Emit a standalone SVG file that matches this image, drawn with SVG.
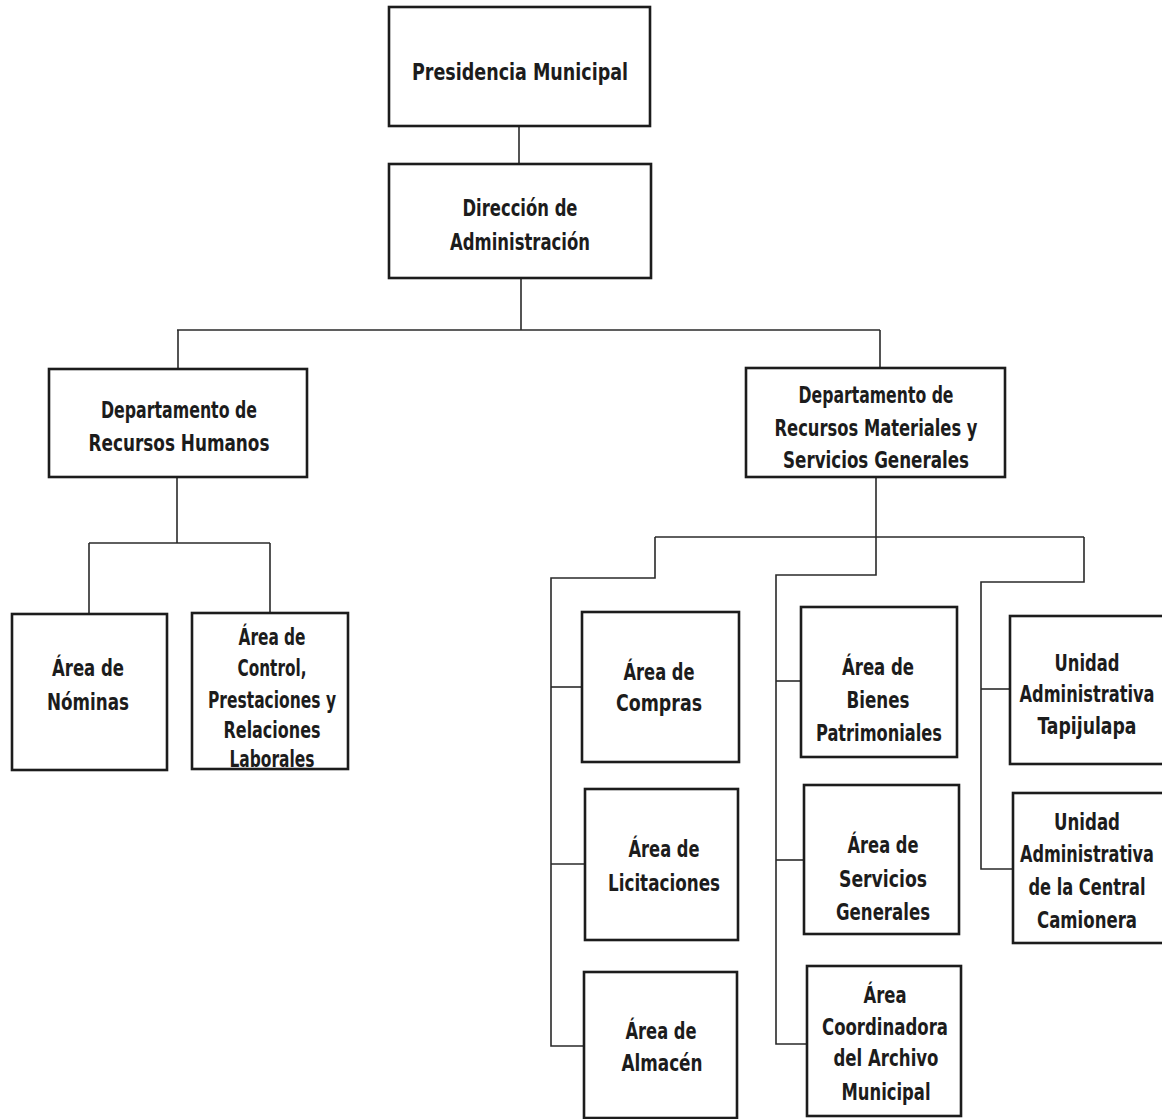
<svg xmlns="http://www.w3.org/2000/svg" width="1162" height="1119" viewBox="0 0 1162 1119">
<style>
.box{fill:#ffffff;stroke:#1c1c1c;stroke-width:2.6}
.t{font-family:"Liberation Sans Narrow","DejaVu Sans Condensed","Liberation Sans",sans-serif;font-stretch:condensed;font-weight:bold;font-size:23.5px;fill:#1c1c1c;text-anchor:middle}
#connectors path{fill:none;stroke:#2a2a2a;stroke-width:1.6}
</style>
<rect width="1162" height="1119" fill="#ffffff"/>
<g id="connectors">
<path d="M519 126V164"/>
<path d="M521 278V330"/>
<path d="M177 330H880"/>
<path d="M178 330V369"/>
<path d="M880 330V368"/>
<path d="M177 477V543"/>
<path d="M89 543H270"/>
<path d="M89 543V614"/>
<path d="M270 543V613"/>
<path d="M876 477V575H776V1044H807"/>
<path d="M655 537H1084"/>
<path d="M655 537V578H551V1046H584"/>
<path d="M1084 537V582H981V869H1013"/>
<path d="M551 687H582"/>
<path d="M551 864H585"/>
<path d="M776 681H801"/>
<path d="M776 860H804"/>
<path d="M981 689H1010"/>
</g>
<g id="presidencia">
<rect class="box" x="389" y="7" width="261" height="119"/>
<text class="t" x="520" y="80" textLength="216" lengthAdjust="spacingAndGlyphs">Presidencia Municipal</text>
</g>
<g id="direccion">
<rect class="box" x="389" y="164" width="262" height="114"/>
<text class="t" x="520" y="216" textLength="115" lengthAdjust="spacingAndGlyphs">Dirección de</text>
<text class="t" x="520" y="250" textLength="140" lengthAdjust="spacingAndGlyphs">Administración</text>
</g>
<g id="recursos-humanos">
<rect class="box" x="49" y="369" width="258" height="108"/>
<text class="t" x="179" y="418" textLength="156" lengthAdjust="spacingAndGlyphs">Departamento de</text>
<text class="t" x="179" y="451" textLength="181" lengthAdjust="spacingAndGlyphs">Recursos Humanos</text>
</g>
<g id="recursos-materiales">
<rect class="box" x="746" y="368" width="259" height="109"/>
<text class="t" x="876" y="403" textLength="155" lengthAdjust="spacingAndGlyphs">Departamento de</text>
<text class="t" x="876" y="436" textLength="203" lengthAdjust="spacingAndGlyphs">Recursos Materiales y</text>
<text class="t" x="876" y="468" textLength="186" lengthAdjust="spacingAndGlyphs">Servicios Generales</text>
</g>
<g id="nominas">
<rect class="box" x="12" y="614" width="155" height="156"/>
<text class="t" x="88" y="676" textLength="72" lengthAdjust="spacingAndGlyphs">Área de</text>
<text class="t" x="88" y="710" textLength="82" lengthAdjust="spacingAndGlyphs">Nóminas</text>
</g>
<g id="control">
<rect class="box" x="192" y="613" width="156" height="156"/>
<text class="t" x="272" y="645" textLength="67" lengthAdjust="spacingAndGlyphs">Área de</text>
<text class="t" x="272" y="676" textLength="69" lengthAdjust="spacingAndGlyphs">Control,</text>
<text class="t" x="272" y="708" textLength="128" lengthAdjust="spacingAndGlyphs">Prestaciones y</text>
<text class="t" x="272" y="738" textLength="97" lengthAdjust="spacingAndGlyphs">Relaciones</text>
<text class="t" x="272" y="767" textLength="85" lengthAdjust="spacingAndGlyphs">Laborales</text>
</g>
<g id="compras">
<rect class="box" x="582" y="612" width="157" height="150"/>
<text class="t" x="659" y="680" textLength="71" lengthAdjust="spacingAndGlyphs">Área de</text>
<text class="t" x="659" y="711" textLength="86" lengthAdjust="spacingAndGlyphs">Compras</text>
</g>
<g id="licitaciones">
<rect class="box" x="585" y="789" width="153" height="151"/>
<text class="t" x="664" y="857" textLength="71" lengthAdjust="spacingAndGlyphs">Área de</text>
<text class="t" x="664" y="891" textLength="112" lengthAdjust="spacingAndGlyphs">Licitaciones</text>
</g>
<g id="almacen">
<rect class="box" x="584" y="972" width="153" height="146"/>
<text class="t" x="661" y="1039" textLength="71" lengthAdjust="spacingAndGlyphs">Área de</text>
<text class="t" x="662" y="1071" textLength="81" lengthAdjust="spacingAndGlyphs">Almacén</text>
</g>
<g id="bienes">
<rect class="box" x="801" y="607" width="156" height="150"/>
<text class="t" x="878" y="675" textLength="72" lengthAdjust="spacingAndGlyphs">Área de</text>
<text class="t" x="878" y="708" textLength="63" lengthAdjust="spacingAndGlyphs">Bienes</text>
<text class="t" x="879" y="741" textLength="126" lengthAdjust="spacingAndGlyphs">Patrimoniales</text>
</g>
<g id="servicios">
<rect class="box" x="804" y="785" width="155" height="149"/>
<text class="t" x="883" y="853" textLength="71" lengthAdjust="spacingAndGlyphs">Área de</text>
<text class="t" x="883" y="887" textLength="88" lengthAdjust="spacingAndGlyphs">Servicios</text>
<text class="t" x="883" y="920" textLength="94" lengthAdjust="spacingAndGlyphs">Generales</text>
</g>
<g id="coordinadora">
<rect class="box" x="807" y="966" width="154" height="150"/>
<text class="t" x="885" y="1003" textLength="43" lengthAdjust="spacingAndGlyphs">Área</text>
<text class="t" x="885" y="1035" textLength="126" lengthAdjust="spacingAndGlyphs">Coordinadora</text>
<text class="t" x="886" y="1066" textLength="105" lengthAdjust="spacingAndGlyphs">del Archivo</text>
<text class="t" x="886" y="1100" textLength="89" lengthAdjust="spacingAndGlyphs">Municipal</text>
</g>
<g id="tapijulapa">
<rect class="box" x="1010" y="616" width="160" height="148"/>
<text class="t" x="1087" y="671" textLength="65" lengthAdjust="spacingAndGlyphs">Unidad</text>
<text class="t" x="1087" y="702" textLength="135" lengthAdjust="spacingAndGlyphs">Administrativa</text>
<text class="t" x="1087" y="734" textLength="99" lengthAdjust="spacingAndGlyphs">Tapijulapa</text>
</g>
<g id="central-camionera">
<rect class="box" x="1013" y="793" width="160" height="150"/>
<text class="t" x="1087" y="830" textLength="66" lengthAdjust="spacingAndGlyphs">Unidad</text>
<text class="t" x="1087" y="862" textLength="134" lengthAdjust="spacingAndGlyphs">Administrativa</text>
<text class="t" x="1087" y="895" textLength="117" lengthAdjust="spacingAndGlyphs">de la Central</text>
<text class="t" x="1087" y="928" textLength="100" lengthAdjust="spacingAndGlyphs">Camionera</text>
</g>
</svg>
